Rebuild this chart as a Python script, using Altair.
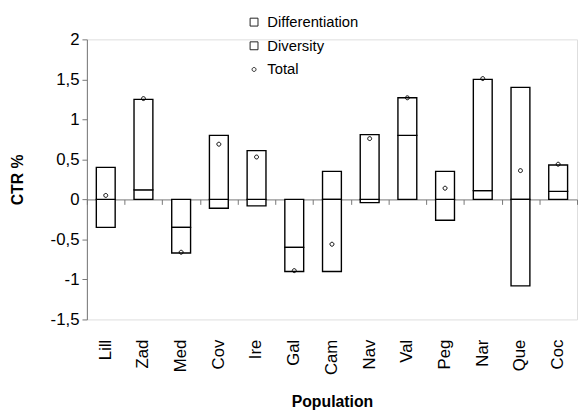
import altair as alt
import pandas as pd

populations = ["Lill", "Zad", "Med", "Cov", "Ire", "Gal", "Cam", "Nav", "Val", "Peg", "Nar", "Que", "Coc"]
differentiation = [-0.35, 0.12, -0.35, -0.11, -0.08, -0.60, 0.35, -0.04, 0.80, -0.26, 0.11, 1.40, 0.10]
diversity = [0.40, 1.13, -0.32, 0.80, 0.61, -0.30, -0.90, 0.81, 0.47, 0.35, 1.39, -1.08, 0.33]
total = [0.05, 1.26, -0.66, 0.69, 0.53, -0.89, -0.56, 0.76, 1.27, 0.14, 1.51, 0.36, 0.44]
series_names = ["Differentiation", "Diversity", "Total"]
y_ticks = [-1.5, -1, -0.5, 0, 0.5, 1, 1.5, 2]

rows = []
for p, d1, d2 in zip(populations, differentiation, diversity):
    rows.append({"pop": p, "series": "Differentiation", "order": 0, "value": d1})
    rows.append({"pop": p, "series": "Diversity", "order": 1, "value": d2})
bars_df = pd.DataFrame(rows)
tot_df = pd.DataFrame({"pop": populations, "total": total, "series": ["Total"] * len(populations)})

FONT = "Liberation Sans"
W, H = 497, 284
ymin, ymax = -1.5, 2.0
zero_offset = -(0 - ymin) / (ymax - ymin) * H

small_circle = "M -0.5 0 A 0.5 0.5 0 1 0 0.5 0 A 0.5 0.5 0 1 0 -0.5 0 Z"

xscale = alt.Scale(domain=populations, paddingInner=0, paddingOuter=0)
yscale = alt.Scale(domain=[ymin, ymax], nice=False, zero=False)
yaxis = alt.Axis(
    values=y_ticks,
    labelExpr="replace(toString(datum.value), '.', ',')",
    grid=False, domainColor="#777", tickColor="#777", tickSize=5,
    labelFontSize=17, labelFont=FONT, labelColor="black", labelPadding=3,
    title="CTR %", titleFont=FONT, titleFontSize=16, titleFontWeight="bold",
    titleColor="black", titlePadding=25,
)

bars = alt.Chart(bars_df).mark_bar(
    width=alt.RelativeBandSize(0.5), fill="white", stroke="black", strokeWidth=1.4
).encode(
    x=alt.X("pop:N", sort=populations, scale=xscale,
            axis=alt.Axis(orient="bottom", domain=False, ticks=False, labelAngle=270,
                          labelFontSize=17, labelFont=FONT, labelColor="black",
                          labelPadding=20, title="Population", titleFont=FONT,
                          titleFontSize=16, titleFontWeight="bold", titleColor="black",
                          titlePadding=19)),
    y=alt.Y("value:Q", stack="zero", scale=yscale, axis=yaxis),
    order=alt.Order("order:Q"),
)

legend = alt.Legend(
    title=None, orient="none", legendX=162, legendY=-25, direction="vertical",
    labelFont=FONT, labelFontSize=15, labelColor="black", labelOffset=6,
    rowPadding=8, padding=0, symbolStrokeColor="#222", symbolFillColor="white",
    symbolStrokeWidth=1, symbolSize=64,
)

points = alt.Chart(tot_df).mark_point(filled=False, color="black", strokeWidth=1, opacity=1, size=64).encode(
    x=alt.X("pop:N", sort=populations, scale=xscale,
            axis=alt.Axis(orient="bottom", offset=zero_offset, domain=True, domainColor="#777",
                          ticks=True, tickColor="#777", tickSize=5, tickBand="extent",
                          labels=False, title=None)),
    y=alt.Y("total:Q", scale=yscale, axis=yaxis),
    shape=alt.Shape("series:N", scale=alt.Scale(domain=series_names, range=["square", "square", small_circle]), legend=legend),
)

chart = alt.layer(bars, points).resolve_axis(x="independent").properties(
    width=W, height=H,
    autosize=alt.AutoSizeParams(type="none"),
    padding={"left": 80, "top": 29, "right": 1, "bottom": 89},
).configure_view(stroke=None).configure(background="white")

chart.save("out.html", embed_options={"renderer": "svg", "actions": False})
